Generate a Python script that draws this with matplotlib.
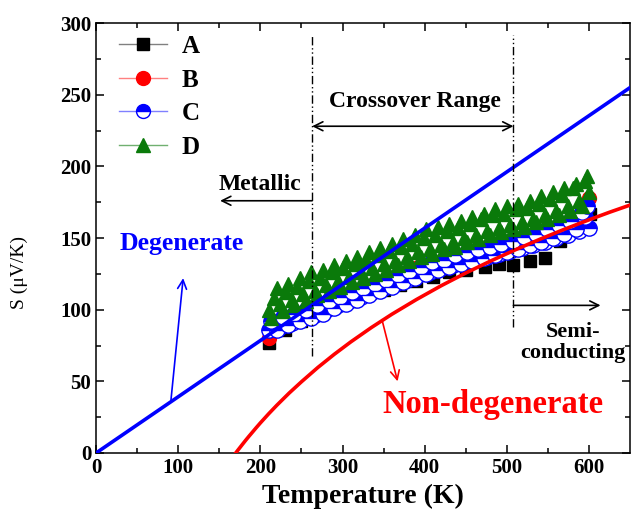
import numpy as np
import matplotlib
matplotlib.use("Agg")
import matplotlib.pyplot as plt
from matplotlib.lines import Line2D

plt.rcParams['font.family'] = ['Liberation Serif', 'DejaVu Serif']
plt.rcParams['font.weight'] = 'bold'
plt.rcParams['axes.labelweight'] = 'bold'

# ---- data ----
T_a = [210, 230, 250, 270, 290, 310, 330, 350, 370, 390, 410, 430, 450, 473,
       490, 508, 528, 547, 565, 585, 601]
S_a = [77, 86, 92, 97, 102, 106, 110, 114, 117, 120, 123, 126, 128, 130,
       132, 131, 134, 136, 148, 158, 167]

T_b = [210, 224, 238, 252, 266, 280, 294, 308, 322, 336, 350, 364, 378, 392,
       406, 420, 434, 448, 462, 476, 490, 504, 518, 532, 546, 560, 574, 588, 600]
S_b = [80, 90, 93, 97, 99, 104, 107, 110, 114, 117, 120, 123, 126, 130,
       129, 133, 135, 137, 140, 142, 144, 147, 149, 151, 154, 156, 158, 162, 178]

T_cd = [210, 217, 224, 231, 238, 245, 252, 259, 266, 273, 280, 287, 294, 301,
        308, 315, 322, 329, 336, 343, 350, 357, 364, 371, 378, 385, 392, 399,
        406, 413, 420, 427, 434, 441, 448, 455, 462, 469, 476, 483, 490, 497,
        504, 511, 518, 525, 532, 539, 546, 553, 560, 567, 574, 581, 588, 595, 600]
S_c = [86, 90, 88, 93, 91, 95, 94, 98, 96, 101, 100, 105, 103, 108,
       106, 111, 109, 114, 112, 117, 115, 120, 118, 123, 121, 126, 124, 129,
       126, 131, 129, 133, 131, 136, 133, 138, 135, 140, 137, 142, 139, 144,
       141, 147, 143, 149, 145, 151, 147, 154, 150, 157, 152, 160, 155, 165, 157]
S_d = [100, 108, 104, 112, 107, 116, 111, 120, 113, 122, 117, 126, 120, 129,
       123, 132, 126, 135, 129, 138, 132, 141, 134, 144, 137, 146, 140, 150,
       142, 152, 145, 155, 147, 157, 150, 160, 152, 163, 155, 166, 157, 167,
       159, 170, 161, 171, 163, 174, 166, 177, 169, 180, 172, 185, 176, 190, 182]

# second sweep, in between the first
T_cd2 = [213, 220, 227, 234, 241, 248, 255, 262, 269, 276, 283, 290, 297, 304,
         311, 318, 325, 332, 339, 346, 353, 360, 367, 374, 381, 388, 395, 402,
         409, 416, 423, 430, 437, 444, 451, 458, 465, 472, 479, 486, 493, 500,
         507, 514, 521, 528, 535, 542, 549, 556, 563, 570, 577, 584, 591, 598]
S_c2 = [92, 86, 95, 89, 97, 92, 100, 94, 103, 97, 106, 101, 109, 104,
        112, 107, 115, 110, 118, 113, 121, 116, 124, 119, 127, 122, 130, 125,
        133, 128, 135, 130, 138, 132, 140, 134, 142, 136, 144, 138, 146, 140,
        148, 142, 151, 145, 153, 147, 156, 150, 159, 153, 162, 156, 168, 172]
S_d2 = [94, 115, 99, 118, 103, 122, 106, 126, 110, 128, 113, 131, 116, 134,
        119, 137, 122, 140, 125, 143, 128, 146, 131, 149, 134, 152, 137, 156,
        139, 158, 142, 160, 144, 162, 147, 165, 149, 167, 152, 170, 154, 172,
        156, 174, 158, 176, 161, 179, 163, 182, 166, 185, 169, 188, 172, 193]

# model curves
T_deg = [0, 650]
S_deg = [0, 255]
T_non = [170, 172, 175, 178, 182, 186, 190, 195, 200, 210, 220, 235, 250, 270,
         290, 310, 335, 360, 390, 420, 450, 480, 510, 540, 570, 600, 625, 650]
S_non = [0, 1.5, 3.7, 5.9, 8.8, 11.6, 14.3, 17.7, 21.0, 27.3, 33.3, 41.8, 49.7,
         59.7, 68.9, 77.5, 87.5, 96.8, 107.1, 116.7, 125.6, 133.9, 141.7,
         149.1, 156.1, 162.7, 168.0, 173.0]

T_cross = [263, 508]

green = '#0a7a0a'

fig = plt.figure(figsize=(6.32, 5.18), dpi=100)
ax = fig.add_axes([0.152, 0.1255, 0.845, 0.830])

ax.plot(T_a, S_a, ls='none', marker='s', ms=9, color='black')
ax.plot(T_b, S_b, ls='none', marker='o', ms=10, mfc='red', mec='red')
for tt, ss in [(T_cd, S_c), (T_cd2, S_c2)]:
    ax.plot(tt, ss, ls='none', marker='o', ms=11, fillstyle='top',
            mfc='blue', mfcalt='white', mec='blue', mew=1.0)
for tt, ss in [(T_cd, S_d), (T_cd2, S_d2)]:
    ax.plot(tt, ss, ls='none', marker='^', ms=10, color=green)

ax.plot(T_deg, S_deg, color='blue', lw=2.6, zorder=5)
ax.plot(T_non, S_non, color='red', lw=2.6, zorder=5)

dd = (0, (6, 2, 1, 2, 1, 2))
ax.plot([T_cross[0]] * 2, [68, 292], color='black', lw=1, ls=dd, zorder=6)
ax.plot([T_cross[1]] * 2, [88, 292], color='black', lw=1, ls=dd, zorder=6)

arr = dict(lw=1.2, color='black', shrinkA=0, shrinkB=0, mutation_scale=16)
ax.annotate('', xy=(T_cross[0], 228), xytext=(T_cross[1], 228),
            arrowprops=dict(arrowstyle='<->', **arr))
ax.text(388, 245, 'Crossover Range', ha='center', va='center', fontsize=17)

ax.annotate('', xy=(151, 176), xytext=(T_cross[0], 176),
            arrowprops=dict(arrowstyle='->', **arr))
ax.text(200, 187, 'Metallic', ha='center', va='center', fontsize=17)

ax.annotate('', xy=(614, 103), xytext=(T_cross[1], 103),
            arrowprops=dict(arrowstyle='->', **arr))
ax.text(581, 77, 'Semi-\nconducting', ha='center', va='center',
        fontsize=16, linespacing=1.05)

ax.text(104, 146, 'Degenerate', ha='center', va='center', fontsize=18.5,
        color='blue')
ax.annotate('', xy=(106, 122), xytext=(91, 36),
            arrowprops=dict(arrowstyle='->', lw=1.2, color='blue',
                            shrinkA=0, shrinkB=0, mutation_scale=16))
ax.text(483, 34, 'Non-degenerate', ha='center', va='center', fontsize=23.5,
        color='red')
ax.annotate('', xy=(367, 50), xytext=(348, 93),
            arrowprops=dict(arrowstyle='->', lw=1.2, color='red',
                            shrinkA=0, shrinkB=0, mutation_scale=16))

ax.set_xlim(0, 650)
ax.set_ylim(0, 300)
ax.set_xticks([0, 100, 200, 300, 400, 500, 600])
ax.set_xticks(np.arange(50, 650, 100), minor=True)
ax.set_yticks([0, 50, 100, 150, 200, 250, 300])
ax.set_yticks(np.arange(25, 300, 50), minor=True)
ax.tick_params(which='both', direction='in', top=True, right=True,
               labelsize=15, width=1.1)
ax.tick_params(which='major', length=6)
ax.tick_params(which='minor', length=3.5)
for s in ax.spines.values():
    s.set_linewidth(1.1)

ax.set_xlabel('Temperature (K)', fontsize=20, labelpad=4)
ax.set_ylabel('S (\u03bcV/K)', fontsize=14, fontweight='normal')
ax.yaxis.set_label_coords(-0.127, 0.42)

handles = [
    Line2D([], [], color='gray', lw=1, marker='s', ms=9, mfc='black', mec='black'),
    Line2D([], [], color='#ff8080', lw=1, marker='o', ms=10, mfc='red', mec='red'),
    Line2D([], [], color='#8080ff', lw=1, marker='o', ms=10, fillstyle='top',
           mfc='blue', mfcalt='white', mec='blue'),
    Line2D([], [], color='#70b070', lw=1, marker='^', ms=10, mfc=green,
           mec=green),
]
ax.legend(handles, ['A', 'B', 'C', 'D'], loc='upper left', frameon=False,
          fontsize=18, handlelength=1.9, handletextpad=0.6, labelspacing=0.42,
          borderaxespad=0.0, bbox_to_anchor=(0.025, 0.995))

fig.savefig('out.png', dpi=100)
